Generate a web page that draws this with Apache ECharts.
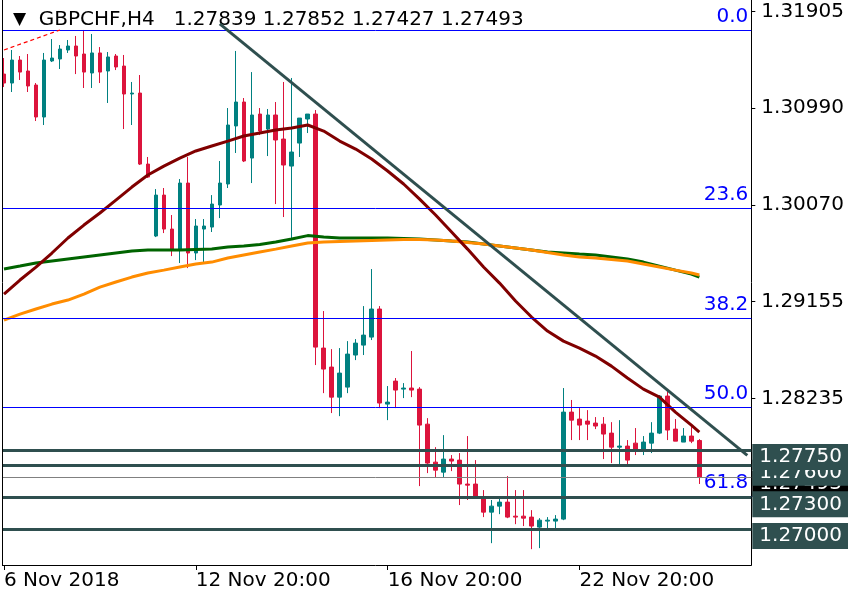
<!DOCTYPE html>
<html><head><meta charset="utf-8">
<script src="https://cdn.jsdelivr.net/npm/echarts@6/dist/echarts.min.js"></script>
<style>html,body{margin:0;padding:0;background:#fff}#c{width:860px;height:600px}</style>
</head><body><div id="c"></div>
<script>
const symbolName = 'GBPCHF,H4';
const opens = [1.31312,1.31227,1.31445,1.31341,1.31208,1.30905,1.31436,1.31455,1.31540,1.31578,1.31502,1.31322,1.31512,1.31341,1.31483,1.31388,1.31123,1.31132,1.30459,1.29777,1.30165,1.29843,1.29653,1.30279,1.29616,1.29843,1.29862,1.30071,1.30270,1.30820,1.31047,1.30516,1.30933,1.30791,1.30924,1.30696,1.30440,1.30658,1.30886,1.30933,1.28715,1.28535,1.28250,1.28345,1.28649,1.28743,1.28819,1.29085,1.28184,1.28402,1.28326,1.28336,1.28326,1.27994,1.27634,1.27539,1.27663,1.27653,1.27426,1.27426,1.27302,1.27160,1.27217,1.27255,1.27122,1.27122,1.27113,1.27018,1.27075,1.27075,1.27094,1.28108,1.28042,1.28023,1.28004,1.27994,1.27909,1.27776,1.27786,1.27814,1.27739,1.27814,1.27909,1.28260,1.27947,1.27824,1.27881,1.27839];
const closes = [1.31227,1.31445,1.31331,1.31199,1.30905,1.31445,1.31464,1.31549,1.31578,1.31483,1.31331,1.31512,1.31331,1.31474,1.31379,1.31123,1.31132,1.30459,1.30336,1.30165,1.29843,1.29653,1.30279,1.29616,1.29872,1.29872,1.30080,1.30279,1.30829,1.31047,1.30488,1.30924,1.30772,1.30924,1.30687,1.30450,1.30573,1.30895,1.30933,1.28724,1.28516,1.28250,1.28478,1.28658,1.28762,1.28838,1.29085,1.28194,1.28203,1.28317,1.28336,1.28317,1.27985,1.27625,1.27558,1.27663,1.27644,1.27426,1.27416,1.27293,1.27160,1.27217,1.27255,1.27113,1.27113,1.27103,1.27028,1.27084,1.27084,1.27094,1.28108,1.28032,1.27985,1.27994,1.27976,1.27900,1.27776,1.27786,1.27653,1.27739,1.27824,1.27909,1.28260,1.27938,1.27833,1.27881,1.27833,1.27493];
const lows = [1.31189,1.31142,1.31256,1.31142,1.30867,1.30829,1.31426,1.31360,1.31512,1.31312,1.31180,1.31180,1.31227,1.31038,1.31350,1.30791,1.30829,1.30450,1.30327,1.29767,1.29805,1.29587,1.29521,1.29473,1.29549,1.29521,1.29815,1.29947,1.30232,1.30564,1.30478,1.30279,1.30734,1.30535,1.30080,1.29957,1.29758,1.30526,1.30753,1.28554,1.28288,1.28099,1.28070,1.28288,1.28601,1.28649,1.28791,1.28146,1.28032,1.28146,1.28241,1.28250,1.27407,1.27530,1.27492,1.27492,1.27549,1.27227,1.27275,1.27293,1.27113,1.26866,1.27141,1.27103,1.27046,1.27028,1.26809,1.26819,1.26990,1.26990,1.27084,1.27843,1.27843,1.27843,1.27947,1.27663,1.27625,1.27615,1.27606,1.27701,1.27701,1.27720,1.27900,1.27843,1.27833,1.27824,1.27814,1.27427];
const highs = [1.31464,1.31540,1.31483,1.31502,1.31227,1.31512,1.31644,1.31587,1.31635,1.31673,1.31730,1.31692,1.31568,1.31521,1.31502,1.31493,1.31237,1.31303,1.30526,1.30222,1.30232,1.29976,1.30317,1.30526,1.29938,1.29938,1.30165,1.30488,1.30990,1.31531,1.31085,1.31331,1.30990,1.30981,1.31047,1.31237,1.31275,1.30895,1.30933,1.30971,1.29066,1.28705,1.28715,1.28781,1.28800,1.29113,1.29464,1.29113,1.28355,1.28431,1.28383,1.28687,1.28345,1.28051,1.27776,1.27890,1.27701,1.27720,1.27881,1.27653,1.27369,1.27275,1.27293,1.27502,1.27369,1.27369,1.27179,1.27103,1.27113,1.27132,1.28336,1.28223,1.28146,1.28127,1.28061,1.28061,1.28013,1.28032,1.27843,1.27957,1.27881,1.28013,1.28269,1.28307,1.28042,1.27957,1.27966,1.27852];

const maBars = [0,2,4,6,8,10,12,14,16,18,20,22,24,26,28,30,32,34,36,38,40,42,44,46,48,50,52,54,56,58,60,62,64,66,68,70,72,74,76,78,80,82,84,86,87];
const maFast = [1.29227,1.29360,1.29483,1.29616,1.29758,1.29881,1.29995,1.30118,1.30241,1.30355,1.30440,1.30516,1.30583,1.30630,1.30677,1.30725,1.30753,1.30782,1.30801,1.30829,1.30772,1.30677,1.30601,1.30507,1.30393,1.30270,1.30127,1.29976,1.29815,1.29653,1.29483,1.29331,1.29161,1.29009,1.28876,1.28781,1.28715,1.28639,1.28544,1.28431,1.28326,1.28250,1.28108,1.27985,1.27919];
const maGreen = [1.29464,1.29492,1.29521,1.29540,1.29559,1.29578,1.29597,1.29616,1.29635,1.29644,1.29644,1.29644,1.29649,1.29653,1.29672,1.29682,1.29696,1.29720,1.29748,1.29781,1.29767,1.29758,1.29758,1.29758,1.29758,1.29753,1.29748,1.29739,1.29729,1.29720,1.29701,1.29682,1.29663,1.29644,1.29625,1.29616,1.29606,1.29597,1.29578,1.29559,1.29530,1.29492,1.29454,1.29416,1.29388];
const maOrange = [1.28980,1.29037,1.29085,1.29132,1.29170,1.29227,1.29293,1.29341,1.29388,1.29426,1.29454,1.29483,1.29511,1.29530,1.29568,1.29597,1.29625,1.29653,1.29682,1.29710,1.29720,1.29725,1.29729,1.29734,1.29739,1.29744,1.29744,1.29739,1.29729,1.29715,1.29701,1.29682,1.29663,1.29644,1.29620,1.29597,1.29578,1.29568,1.29554,1.29540,1.29511,1.29483,1.29454,1.29426,1.29407];

const fibLabels = ['0.0','23.6','38.2','50.0','61.8'];
const fibPrices = [1.31730,1.30044,1.29000,1.28157,1.27314];
const fibDiagBars = [0,7];
const fibDiagPrices = [1.31540,1.31730];
const trendBars = [27,93];
const trendPrices = [1.31787,1.27698];
const levels = [1.27000,1.27300,1.27600,1.27750];
const bidPrice = 1.27493;
const yTicks = [1.31905,1.30990,1.30070,1.29155,1.28235];
const yMin = 1.26659, yMax = 1.32014;

// H4 bar times (weekdays only), starting 6 Nov 2018 20:00
const months = ['Jan','Feb','Mar','Apr','May','Jun','Jul','Aug','Sep','Oct','Nov','Dec'];
const cats = [];
(function(){
  let t = Date.UTC(2018,10,6,20);
  while (cats.length < 94) {
    const d = new Date(t); const wd = d.getUTCDay();
    if (wd !== 0 && wd !== 6) {
      const hh = String(d.getUTCHours()).padStart(2,'0');
      cats.push(d.getUTCDate()+' '+months[d.getUTCMonth()]+' '+d.getUTCFullYear()+' '+hh+':00');
    }
    t += 4*3600e3;
  }
})();

const candles = opens.map((o,i)=>[o, closes[i], lows[i], highs[i]]);
const last = candles.length-1;
const font = 'DejaVu Sans';
const chart = echarts.init(document.getElementById('c'), null, {renderer:'canvas'});
const pairs = (xs, ys) => xs.map((x,i)=>[x, ys[i]]);

const bidItem = {yAxis:bidPrice, name:bidPrice.toFixed(5),
  lineStyle:{color:'#808080', width:1},
  label:{backgroundColor:'#000'}};
const levelItems = levels.map(p=>({yAxis:p, name:p.toFixed(5)}));

chart.setOption({
  animation:false,
  backgroundColor:'#ffffff',
  textStyle:{fontFamily:font},
  title:{
    text:'{t|▼}  ' + symbolName + '   ' + [opens[last],highs[last],lows[last],closes[last]].map(v=>v.toFixed(5)).join(' '),
    left:8, top:5,
    textStyle:{fontFamily:font, fontSize:20, fontWeight:'normal', color:'#000', rich:{t:{fontSize:17, color:'#000', fontFamily:font}}}
  },
  grid:{left:-0.7, top:0, width:752, height:565, containLabel:false},
  xAxis:{
    type:'category', data:cats, boundaryGap:true,
    axisLine:{show:true, lineStyle:{color:'#000', width:1}},
    axisTick:{show:true, alignWithLabel:true, interval:(i)=>i%24===0, length:5, lineStyle:{color:'#000'}},
    axisLabel:{interval:(i)=>i%24===0, align:'left', margin:6, fontSize:20, color:'#000', fontFamily:font,
      formatter:(v,i)=>{ const p=v.split(' '); return i===0 ? p[0]+' '+p[1]+' '+p[2] : p[0]+' '+p[1]+' '+p[3]; }},
    splitLine:{show:false}
  },
  yAxis:{
    type:'value', position:'right', min:yMin, max:yMax, scale:true,
    axisLine:{show:true, lineStyle:{color:'#000', width:1}},
    axisTick:{show:true, customValues:yTicks, length:4, lineStyle:{color:'#000'}},
    axisLabel:{customValues:yTicks, formatter:v=>v.toFixed(5), fontSize:20, color:'#000', margin:10, fontFamily:font},
    splitLine:{show:false}
  },
  graphic:[
    {type:'rect', shape:{x:0,y:0,width:2,height:566}, style:{fill:'#fff'}, z:100},
    {type:'line', shape:{x1:2.5,y1:0,x2:2.5,y2:565}, style:{stroke:'#000', lineWidth:1}, z:101}
  ],
  series:[
    {type:'candlestick', data:candles, barWidth:4, z:2,
      itemStyle:{color:'#008080', color0:'#DC143C', borderColor:'#008080', borderColor0:'#DC143C', borderWidth:1}},
    {type:'line', data:pairs(maBars, maGreen), showSymbol:false, z:3, lineStyle:{color:'#006400', width:3}},
    {type:'line', data:pairs(maBars, maOrange), showSymbol:false, z:3, lineStyle:{color:'#FF8C00', width:3}},
    {type:'line', data:pairs(maBars, maFast), showSymbol:false, z:3, lineStyle:{color:'#800000', width:3}},
    {type:'line', data:pairs(fibDiagBars, fibDiagPrices), showSymbol:false, z:4, lineStyle:{color:'#FF0000', width:1.2, type:[4,3]}},
    {type:'line', data:[], z:4,
      markLine:{z:4, silent:true, precision:5, symbol:['none','none'], animation:false,
        lineStyle:{color:'#0000FF', width:1, type:'solid'},
        label:{show:true, position:'insideEndTop', distance:3, color:'#0000FF', fontSize:20, fontFamily:font, formatter:'{b}'},
        data:fibPrices.map((p,i)=>({yAxis:p, name:fibLabels[i]}))}},
    {type:'line', data:[], z:6,
      markLine:{z:6, silent:true, precision:5, symbol:['none','none'], animation:false,
        lineStyle:{color:'#2F4F4F', width:3, type:'solid'},
        label:{show:true, position:'end', distance:1, offset:[0,7], color:'#fff', backgroundColor:'#2F4F4F', padding:[3,6,3,7], fontSize:20, fontFamily:font, formatter:'{b}'},
        data:[bidItem].concat(levelItems)}},
    {type:'line', data:pairs(trendBars, trendPrices), showSymbol:false, z:7, lineStyle:{color:'#2F4F4F', width:3}}
  ]
});
</script></body></html>
